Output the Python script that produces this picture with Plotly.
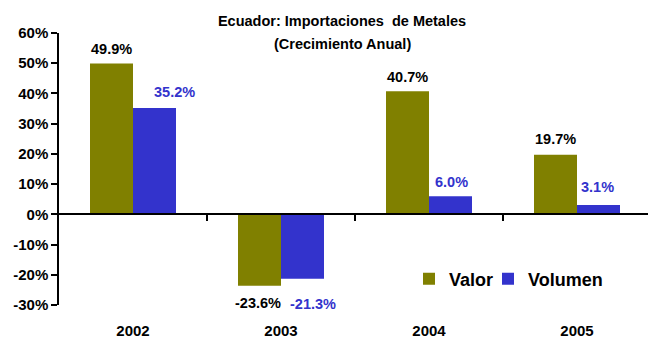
import plotly.graph_objects as go

# Annual growth of Ecuador's metal imports (percent)
years = ["2002", "2003", "2004", "2005"]
valor = [49.9, -23.6, 40.7, 19.7]
volumen = [35.2, -21.3, 6.0, 3.1]
y_ticks = [-30, -20, -10, 0, 10, 20, 30, 40, 50, 60]

OLIVE = "#808000"
BLUE = "#3333CC"
FONT = "Liberation Sans, Arial, sans-serif"

W, H = 648, 340
L, R, T, B = 59, 0, 33, 35
PW, PH = W - L - R, H - T - B
cat_px = 148  # pixel width of one year slot
x_hi = -0.5 + PW / cat_px

fig = go.Figure()
fig.add_trace(go.Bar(x=years, y=valor, name="<b>Valor</b>", marker_color=OLIVE,
                     marker_line_width=0, legend="legend"))
fig.add_trace(go.Bar(x=years, y=volumen, name="<b>Volumen</b>", marker_color=BLUE,
                     marker_line_width=0, legend="legend2"))

# value labels: (x offset px, y offset px) per bar
valor_off = [(0, 15), (-2, -17), (0, 14), (0, 16)]
volumen_off = [(20, 16), (11, -25), (1, 14), (-1, 18)]
bar_shift = 0.145  # half of one bar width in category units
for i, y in enumerate(years):
    for vals, offs, col, dx in ((valor, valor_off, "#000000", -bar_shift),
                                (volumen, volumen_off, BLUE, bar_shift)):
        v = vals[i]
        fig.add_annotation(
            x=i + dx, y=v, xref="x", yref="y",
            text=f"<b>{v:.1f}%</b>", showarrow=False,
            xshift=offs[i][0], yshift=offs[i][1],
            xanchor="center", yanchor="middle",
            font=dict(family=FONT, size=14.5, color=col),
        )

TITLE_FONT = dict(family=FONT, size=14.5, color="#000000")
LEGEND_FONT = dict(family=FONT, size=18, color="#000000")


def legend_box(left_px):
    return dict(
        orientation="h", x=(left_px - L) / PW, xanchor="left",
        y=26 / PH, yanchor="middle", font=LEGEND_FONT,
        bgcolor="rgba(0,0,0,0)", borderwidth=0,
    )


fig.update_layout(
    width=W, height=H,
    margin=dict(l=L, r=R, t=T, b=B, pad=0, autoexpand=False),
    paper_bgcolor="white", plot_bgcolor="white",
    barmode="group", bargap=62 / 148, bargroupgap=0,
    title=dict(
        text="<b>Ecuador: Importaciones\u00a0 de Metales</b>",
        x=342 / W, xanchor="center", xref="container",
        y=1 - 21 / H, yanchor="middle", yref="container",
        font=TITLE_FONT,
    ),
    showlegend=True,
    legend=legend_box(409),
    legend2=legend_box(488),
    font=dict(family=FONT, color="#000000"),
)
fig.add_annotation(
    text="<b>(Crecimiento Anual)</b>", showarrow=False,
    xref="paper", yref="paper",
    x=(342 - L) / PW, y=1 + (T - 44) / PH,
    xanchor="center", yanchor="middle", font=TITLE_FONT,
)

fig.update_xaxes(
    range=[-0.5, x_hi], showgrid=False, zeroline=False, showline=False,
    ticks="", tickfont=dict(family=FONT, size=15, color="#000000", weight="bold"),
    ticklabelstandoff=15, type="category", fixedrange=True, automargin=False,
)
# zero baseline with tick marks between years
fig.update_layout(
    xaxis2=dict(
        overlaying="x", anchor="free",
        position=(0 - y_ticks[0]) / (y_ticks[-1] - y_ticks[0]),
        range=[-0.5, x_hi], showline=True, linecolor="#000000", linewidth=1.5,
        ticks="outside", ticklen=6, tickwidth=1.5, tickcolor="#000000",
        tickvals=[0.5, 1.5, 2.5], showticklabels=False, showgrid=False,
        zeroline=False, side="bottom", automargin=False,
    )
)
fig.add_trace(go.Scatter(x=[None], y=[None], xaxis="x2", showlegend=False,
                         hoverinfo="skip"))

fig.update_yaxes(
    range=[y_ticks[0], y_ticks[-1]], tickvals=y_ticks,
    ticktext=[f"<b>{t}%</b>" for t in y_ticks],
    showgrid=False, zeroline=False, showline=True, linecolor="#000000",
    linewidth=1.5, ticks="outside", ticklen=6, tickwidth=1.5,
    tickcolor="#000000",
    tickfont=dict(family=FONT, size=15, color="#000000"),
    fixedrange=True, automargin=False,
)

fig.write_html("out.html")
